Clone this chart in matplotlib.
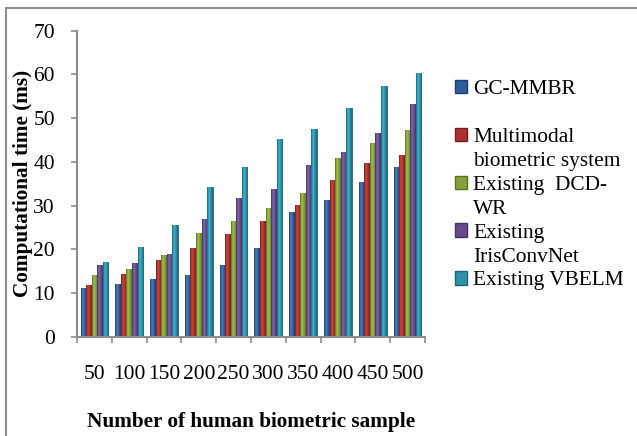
import numpy as np
import matplotlib
matplotlib.use("Agg")
import matplotlib.pyplot as plt
from matplotlib.patches import Rectangle
from matplotlib.colors import LinearSegmentedColormap

plt.rcParams['font.family'] = ['Liberation Serif', 'DejaVu Serif']

samples = ['50', '100', '150', '200', '250', '300', '350', '400', '450', '500']
gc_mmbr = [11.2, 12.1, 13.3, 14.2, 16.4, 20.3, 28.5, 31.4, 35.4, 38.9]
multimodal = [11.9, 14.4, 17.6, 20.3, 23.5, 26.4, 30.1, 35.8, 39.8, 41.5]
dcd_wr = [14.2, 15.5, 18.7, 23.7, 26.4, 29.4, 33.0, 40.8, 44.3, 47.3]
irisconvnet = [16.4, 16.9, 18.9, 26.9, 31.7, 33.9, 39.4, 42.3, 46.7, 53.3]
vbelm = [17.1, 20.5, 25.5, 34.3, 38.9, 45.3, 47.6, 52.3, 57.3, 60.4]

series = [gc_mmbr, multimodal, dcd_wr, irisconvnet, vbelm]
colors = ['#2d5e9e', '#aa312f', '#83a23a', '#654b8b', '#2e92ab']
lights = ['#4a80c4', '#d04440', '#a0c24c', '#8266ad', '#3fb4d0']
edges = ['#1d3f6e', '#741f1e', '#5a7027', '#45325f', '#1f6477']
legend_lines = [('GC-MMBR', 0), (' ', None), ('Multimodal', 1), ('biometric system', None),
                ('Existing  DCD-', 2), ('WR', None), ('Existing', 3), ('IrisConvNet', None),
                ('Existing VBELM', 4)]

fig = plt.figure(figsize=(6.37, 4.36), dpi=100)
ax = fig.add_axes([0.121, 0.227, 0.546, 0.703])

x = np.arange(len(samples))
w = 0.16
grad = np.linspace(0, 1, 32).reshape(1, -1)
for i, vals in enumerate(series):
    bars = ax.bar(x + (i - 2) * w, vals, w, color=colors[i], edgecolor=edges[i], linewidth=0.6)
    cmap = LinearSegmentedColormap.from_list('b%d' % i, [edges[i], lights[i], colors[i], edges[i]])
    for b in bars:
        bx, by = b.get_x(), b.get_y()
        im = ax.imshow(grad, extent=[bx, bx + b.get_width(), by, by + b.get_height()],
                       cmap=cmap, aspect='auto', interpolation='bilinear', zorder=b.get_zorder())
        im.set_clip_path(b)

ax.set_xlim(-0.5, len(samples) - 0.5)
ax.set_ylim(0, 70)
ax.set_yticks(range(0, 71, 10))
ax.set_xticks(x)
ax.set_xticklabels(samples)
ax.set_xticks(np.arange(-0.5, len(samples)), minor=True)
ax.tick_params(axis='x', which='major', length=0, labelsize=15.5, pad=20)
ax.tick_params(axis='x', which='minor', length=4, width=1.2, color='#8c8c8c')
ax.tick_params(axis='y', length=4, width=1.2, color='#8c8c8c', labelsize=15.5, pad=12)
for s in ['top', 'right']:
    ax.spines[s].set_visible(False)
for s in ['left', 'bottom']:
    ax.spines[s].set_color('#8c8c8c')
    ax.spines[s].set_linewidth(1.5)

ax.set_xlabel('Number of human biometric sample', fontsize=15.3, fontweight='bold', labelpad=20)
ax.set_ylabel('Computational time (ms)', fontsize=15.3, fontweight='bold')
ax.yaxis.set_label_coords(-0.127, 0.5)

handles = []
labels = []
for text, idx in legend_lines:
    if idx is None:
        handles.append(Rectangle((0, 0), 1, 1, facecolor='none', edgecolor='none'))
    else:
        handles.append(Rectangle((0, 0), 1, 1, facecolor=colors[idx], edgecolor=edges[idx]))
    labels.append(text)
fig.legend(handles, labels, loc='upper left', bbox_to_anchor=(455 / 637, 1 - 80 / 436),
           frameon=False, fontsize=15.4, handlelength=0.58, handleheight=0.58,
           handletextpad=0.28, labelspacing=0.22, borderpad=0, borderaxespad=0)

fig.patches.append(Rectangle((6 / 637, -0.01), 1, 1 - 8 / 436 + 0.01, transform=fig.transFigure,
                             fill=False, edgecolor='#8c8c8c', linewidth=1.5))

fig.savefig('out.png', dpi=100)
